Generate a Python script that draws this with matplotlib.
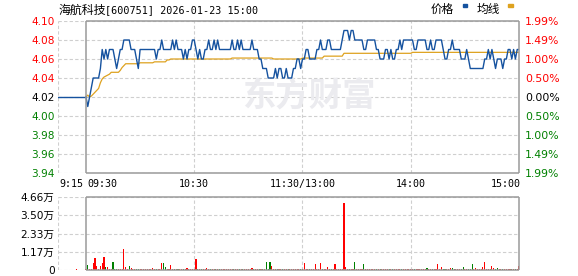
import matplotlib
matplotlib.use("Agg")
import matplotlib.pyplot as plt
import matplotlib.transforms as mtransforms
from matplotlib.patches import Rectangle

plt.rcParams['font.family'] = ['DejaVu Sans', 'Noto Sans CJK SC']

# ---- data ----
stock_name = "海航科技"
stock_info = "[600751] 2026-01-23 15:00"
pre_close = 4.02

# one value per trading minute, 09:30 .. 11:30 / 13:00 .. 15:00 (241 points)
price = [
    4.02, 4.01, 4.02, 4.03, 4.04, 4.04, 4.04, 4.04, 4.05, 4.07,
    4.06, 4.07, 4.06, 4.07, 4.07, 4.07, 4.06, 4.05, 4.06, 4.07,
    4.07, 4.08, 4.08, 4.08, 4.08, 4.07, 4.07, 4.07, 4.06, 4.05,
    4.07, 4.07, 4.07, 4.07, 4.07, 4.07, 4.07, 4.07, 4.07, 4.06,
    4.07, 4.07, 4.08, 4.07, 4.07, 4.07, 4.07, 4.07, 4.08, 4.07,
    4.08, 4.07, 4.07, 4.07, 4.06, 4.07, 4.06, 4.07, 4.07, 4.08,
    4.08, 4.07, 4.06, 4.07, 4.06, 4.06, 4.07, 4.07, 4.08, 4.07,
    4.07, 4.08, 4.07, 4.08, 4.07, 4.07, 4.07, 4.07, 4.07, 4.07,
    4.07, 4.08, 4.07, 4.07, 4.08, 4.07, 4.08, 4.07, 4.07, 4.07,
    4.07, 4.07, 4.08, 4.07, 4.07, 4.07, 4.06, 4.06, 4.05, 4.05,
    4.05, 4.04, 4.04, 4.04, 4.04, 4.05, 4.04, 4.05, 4.05, 4.04,
    4.04, 4.05, 4.04, 4.04, 4.04, 4.05, 4.05, 4.06, 4.06, 4.05,
    4.06, 4.06, 4.07, 4.07, 4.06, 4.06, 4.06, 4.06, 4.07, 4.07,
    4.08, 4.07, 4.07, 4.07, 4.08, 4.08, 4.07, 4.07, 4.07, 4.07,
    4.07, 4.07, 4.08, 4.09, 4.09, 4.09, 4.08, 4.09, 4.09, 4.08,
    4.08, 4.08, 4.08, 4.08, 4.07, 4.07, 4.08, 4.08, 4.08, 4.08,
    4.08, 4.07, 4.07, 4.06, 4.06, 4.06, 4.07, 4.07, 4.06, 4.07,
    4.06, 4.06, 4.07, 4.07, 4.08, 4.07, 4.08, 4.08, 4.08, 4.08,
    4.08, 4.08, 4.07, 4.07, 4.08, 4.08, 4.08, 4.08, 4.08, 4.07,
    4.07, 4.08, 4.07, 4.07, 4.08, 4.08, 4.08, 4.08, 4.07, 4.06,
    4.06, 4.07, 4.07, 4.08, 4.07, 4.07, 4.07, 4.07, 4.06, 4.06,
    4.06, 4.07, 4.06, 4.05, 4.05, 4.05, 4.05, 4.05, 4.05, 4.05,
    4.05, 4.06, 4.06, 4.07, 4.06, 4.07, 4.06, 4.05, 4.06, 4.06,
    4.06, 4.05, 4.06, 4.06, 4.07, 4.07, 4.06, 4.07, 4.06, 4.07,
    4.07,
]

avg_price = [
    4.020, 4.022, 4.020, 4.021, 4.023, 4.025, 4.027, 4.029, 4.035, 4.039,
    4.041, 4.042, 4.043, 4.044, 4.046, 4.046, 4.046, 4.046, 4.046, 4.048,
    4.051, 4.053, 4.055, 4.055, 4.055, 4.055, 4.055, 4.055, 4.055, 4.055,
    4.056, 4.056, 4.056, 4.056, 4.056, 4.056, 4.056, 4.056, 4.057, 4.057,
    4.057, 4.057, 4.057, 4.057, 4.057, 4.059, 4.059, 4.060, 4.060, 4.060,
    4.060, 4.060, 4.060, 4.060, 4.060, 4.060, 4.060, 4.060, 4.060, 4.060,
    4.060, 4.060, 4.060, 4.060, 4.060, 4.060, 4.060, 4.060, 4.060, 4.060,
    4.060, 4.060, 4.060, 4.060, 4.060, 4.060, 4.060, 4.060, 4.060, 4.060,
    4.060, 4.061, 4.061, 4.061, 4.061, 4.061, 4.061, 4.061, 4.061, 4.061,
    4.061, 4.061, 4.061, 4.061, 4.061, 4.061, 4.061, 4.061, 4.061, 4.061,
    4.061, 4.061, 4.061, 4.061, 4.060, 4.060, 4.060, 4.060, 4.060, 4.060,
    4.060, 4.060, 4.060, 4.060, 4.060, 4.060, 4.060, 4.060, 4.060, 4.060,
    4.061, 4.061, 4.061, 4.061, 4.061, 4.061, 4.061, 4.061, 4.061, 4.061,
    4.061, 4.061, 4.063, 4.063, 4.063, 4.063, 4.063, 4.063, 4.063, 4.063,
    4.063, 4.063, 4.063, 4.066, 4.066, 4.066, 4.066, 4.066, 4.066, 4.066,
    4.066, 4.066, 4.066, 4.066, 4.066, 4.066, 4.066, 4.066, 4.066, 4.066,
    4.066, 4.066, 4.066, 4.066, 4.066, 4.066, 4.066, 4.066, 4.066, 4.066,
    4.066, 4.066, 4.066, 4.066, 4.066, 4.066, 4.066, 4.066, 4.066, 4.066,
    4.066, 4.067, 4.067, 4.067, 4.067, 4.067, 4.067, 4.067, 4.067, 4.067,
    4.067, 4.067, 4.067, 4.067, 4.067, 4.067, 4.067, 4.067, 4.067, 4.067,
    4.067, 4.067, 4.067, 4.067, 4.067, 4.067, 4.067, 4.067, 4.067, 4.067,
    4.067, 4.067, 4.067, 4.067, 4.067, 4.067, 4.067, 4.067, 4.067, 4.067,
    4.067, 4.067, 4.067, 4.067, 4.067, 4.067, 4.067, 4.067, 4.067, 4.067,
    4.067, 4.067, 4.067, 4.067, 4.067, 4.067, 4.067, 4.067, 4.067, 4.067,
    4.067,
]

# volume per minute, in 万 (10k shares)
volume = [
    0.04, 0.32, 0.08, 0.06, 0.42, 0.74, 0.25, 0.06, 0.25, 0.47, 0.85, 0.17, 0.17, 0.06, 0.04, 0.53, 0.06, 0.04, 0.04, 0.04,
    0.04, 1.31, 0.17, 0.04, 0.25, 0.10, 0.04, 0.04, 0.04, 0.04, 0.04, 0.04, 0.04, 0.04, 0.04, 0.04, 0.04, 0.10, 0.04, 0.04,
    0.04, 0.04, 0.47, 0.42, 0.17, 0.04, 0.04, 0.30, 0.04, 0.04, 0.04, 0.04, 0.04, 0.04, 0.04, 0.04, 0.10, 0.04, 0.04, 0.04,
    0.04, 0.70, 0.04, 0.04, 0.04, 0.04, 0.04, 0.10, 0.04, 0.04, 0.04, 0.04, 0.04, 0.04, 0.04, 0.04, 0.04, 0.04, 0.04, 0.04,
    0.04, 0.04, 0.04, 0.04, 0.04, 0.04, 0.04, 0.04, 0.04, 0.04, 0.04, 0.04, 0.10, 0.04, 0.04, 0.04, 0.04, 0.04, 0.04, 0.04,
    0.50, 0.04, 0.50, 0.25, 0.04, 0.04, 0.04, 0.04, 0.04, 0.04, 0.04, 0.04, 0.04, 0.04, 0.04, 0.04, 0.04, 0.04, 0.04, 0.04,
    0.04, 0.42, 0.04, 0.04, 0.04, 0.04, 0.04, 0.38, 0.04, 0.04, 0.42, 0.04, 0.04, 0.04, 0.17, 0.04, 0.04, 0.04, 0.36, 0.04,
    0.04, 0.04, 0.04, 4.30, 0.17, 0.04, 0.04, 0.04, 0.04, 0.49, 0.04, 0.04, 0.04, 0.04, 0.36, 0.04, 0.04, 0.04, 0.04, 0.04,
    0.04, 0.04, 0.04, 0.04, 0.04, 0.04, 0.04, 0.04, 0.04, 0.04, 0.04, 0.04, 0.04, 0.04, 0.04, 0.04, 0.04, 0.04, 0.04, 0.04,
    0.04, 0.04, 0.04, 0.04, 0.04, 0.04, 0.04, 0.04, 0.04, 0.10, 0.04, 0.04, 0.04, 0.04, 0.04, 0.38, 0.04, 0.17, 0.04, 0.04,
    0.04, 0.04, 0.10, 0.10, 0.04, 0.04, 0.04, 0.04, 0.04, 0.17, 0.04, 0.04, 0.04, 0.04, 0.38, 0.04, 0.10, 0.04, 0.04, 0.04,
    0.17, 0.50, 0.04, 0.04, 0.04, 0.25, 0.12, 0.04, 0.10, 0.04, 0.04, 0.04, 0.04, 0.04, 0.04, 0.04, 0.04, 0.04, 0.04, 0.04,
    0.25,
]

# minutes whose volume bar is green (down tick)
green_minutes = [1, 11, 15, 16, 17, 24, 28, 29, 39, 43, 44, 49, 51, 54, 62, 64, 69, 72, 74, 82, 85, 87,
                 93, 96, 98, 100, 101, 102, 106, 109, 112, 119, 124, 131, 136, 146, 149, 154, 161, 163,
                 168, 170, 175, 182, 189, 192, 198, 199, 203, 204, 208, 209, 212, 213, 214, 224, 227,
                 228, 231, 236, 238]

# pre-market (call auction) 09:15 - 09:30, minutes before the open
pre_minutes = [15, 0]
pre_prices = [4.02, 4.02]
auction_minute = 5
auction_volume = 0.08

price_ticks = [3.94, 3.96, 3.98, 4.00, 4.02, 4.04, 4.06, 4.08, 4.10]
vol_ticks = [0, 1.17, 2.33, 3.50, 4.66]
time_ticks = [-15.5, 0, 60, 120, 180, 240]
time_labels = ["9:15", "09:30", "10:30", "11:30/13:00", "14:00", "15:00"]
time_align = ["left", "left", "center", "center", "center", "right"]

# ---- styling ----
BLUE = '#15529f'
ORANGE = '#dea21f'
RED = '#ff0000'
GREEN = '#008000'
FRAME = '#9a9a9a'
GRID = '#cfcfcf'
PRE_SCALE = 15.5 / 15  # pre-market section is drawn a bit wider

W, H = 578, 276
fig = plt.figure(figsize=(W / 100, H / 100), dpi=100)
ax = fig.add_axes([58 / W, 1 - 173 / H, (519 - 58) / W, (173 - 21) / H])
axv = fig.add_axes([58 / W, 1 - 270 / H, (519 - 58) / W, (270 - 197) / H])

minutes = list(range(len(price)))
x_min, x_max = -15.5, 240


def frame(a, ticks, vgrid):
    lo, hi = ticks[0], ticks[-1]
    a.set_xlim(x_min, x_max)
    a.set_ylim(lo, hi)
    for s in a.spines.values():
        s.set_visible(False)
    a.set_xticks([])
    a.hlines(ticks, x_min, x_max, colors=GRID, linestyles=(0, (3, 2)), lw=0.8, zorder=0)
    a.vlines(vgrid, lo, hi, colors=GRID, linestyles=(0, (3, 2)), lw=0.8, zorder=0)
    a.hlines([lo, hi], 0, x_max, colors=FRAME, lw=1.1, zorder=4, clip_on=False)
    a.vlines([0, x_max], lo, hi, colors=FRAME, lw=1.1, zorder=4, clip_on=False)


frame(ax, price_ticks, [x_min, 60, 120, 180])
frame(axv, vol_ticks, [x_min, 60, 120, 180])

# watermark
ax.text((242 - 58) / 461, 0.5, "东方财富", transform=ax.transAxes, ha='left', va='center',
        fontsize=24, fontweight='bold', color='#ebebef', family='Noto Sans CJK SC',
        zorder=0.5)

# price + average
pre_x = [-m * PRE_SCALE for m in pre_minutes]
ax.plot(pre_x, pre_prices, color=BLUE, lw=1.0, zorder=3)
ax.plot(minutes, avg_price, color=ORANGE, lw=0.9, zorder=2)
ax.plot(minutes, price, color=BLUE, lw=1.0, zorder=3)

# price labels left / percent labels right
ax.set_yticks(price_ticks)
ax.set_yticklabels([f"{p:.2f}" for p in price_ticks])
ax.tick_params(axis='y', length=0, pad=2.5, labelsize=7.6)
ax2 = ax.twinx()
ax2.set_ylim(ax.get_ylim())
for s in ax2.spines.values():
    s.set_visible(False)
ax2.set_yticks(price_ticks)
ax2.set_yticklabels([f"{abs(p - pre_close) / pre_close * 100:.2f}%" for p in price_ticks])
ax2.tick_params(axis='y', length=0, pad=4.5, labelsize=7.8)


def tone(p):
    if round(p, 2) > pre_close:
        return RED
    if round(p, 2) < pre_close:
        return GREEN
    return 'black'


for lab, p in zip(ax.get_yticklabels(), price_ticks):
    lab.set_color(tone(p))
for lab, p in zip(ax2.get_yticklabels(), price_ticks):
    lab.set_color(tone(p))

# time axis labels
trans = mtransforms.blended_transform_factory(ax.transData, ax.transAxes)
for t, lab, al in zip(time_ticks, time_labels, time_align):
    ax.text(t + (0.6 if al == 'left' else (1.0 if al == 'right' else 0)), -0.04, lab,
            transform=trans, ha=al, va='top', fontsize=7.2, family='DejaVu Sans Mono')

# volume bars (crisp, one pixel wide)
colors = [GREEN if i in green_minutes else RED for i in minutes]
axv.bar(minutes, volume, width=0.6, color=colors, lw=0, antialiased=False, zorder=3)
axv.bar([-auction_minute * PRE_SCALE], [auction_volume], width=0.6, color=RED, lw=0,
        antialiased=False, zorder=3)
axv.set_yticks(vol_ticks)
axv.set_yticklabels(["0" if v == 0 else f"{v:.2f}万" for v in vol_ticks])
axv.tick_params(axis='y', length=0, pad=2.5, labelsize=7.6)

# title and legend
fig.text(58 / W, 1 - 10 / H, stock_name, ha='left', va='center', fontsize=8.6,
         family='Noto Sans CJK SC')
fig.text(105 / W, 1 - 10 / H, stock_info, ha='left', va='center', fontsize=7.3,
         family='DejaVu Sans Mono')
fig.text(431 / W, 1 - 9 / H, "价格", ha='left', va='center', fontsize=8.4,
         family='Noto Sans CJK SC')
fig.text(477 / W, 1 - 9 / H, "均线", ha='left', va='center', fontsize=8.4,
         family='Noto Sans CJK SC')
fig.patches.append(Rectangle((463 / W, 1 - 7 / H), 4 / W, 3 / H, transform=fig.transFigure,
                             color=BLUE))
fig.patches.append(Rectangle((508 / W, 1 - 7 / H), 5 / W, 3 / H, transform=fig.transFigure,
                             color=ORANGE))

fig.savefig("out.png", dpi=100, facecolor='white')
